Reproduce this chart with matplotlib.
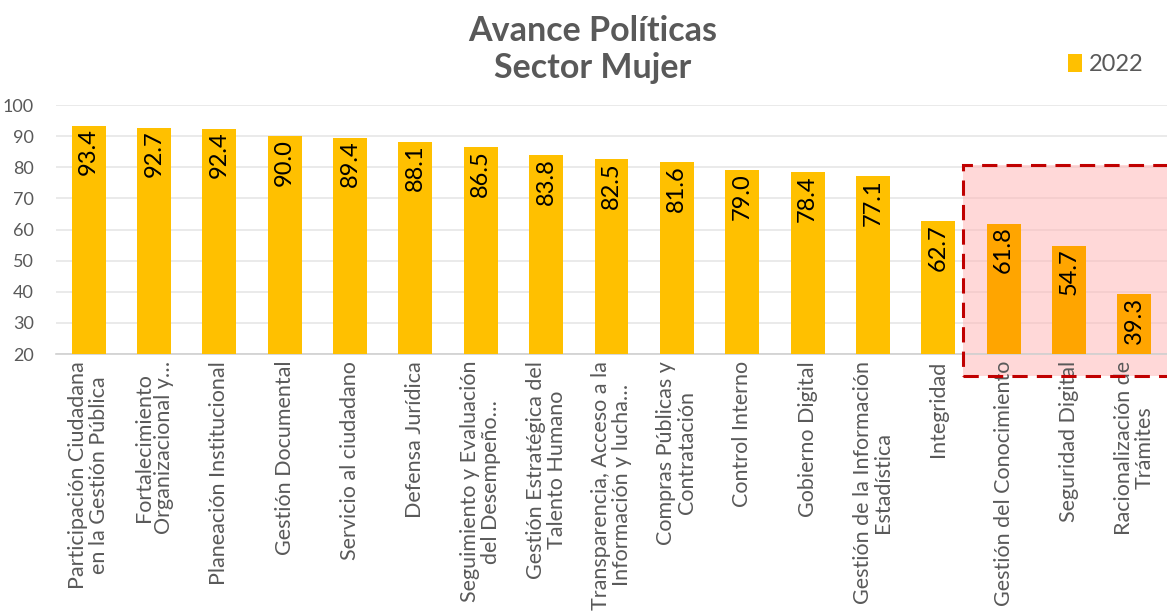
import matplotlib
matplotlib.use("Agg")
import matplotlib.pyplot as plt
from matplotlib.patches import Rectangle

categories = [
    "Participación Ciudadana\nen la Gestión Pública",
    "Fortalecimiento\nOrganizacional y…",
    "Planeación Institucional",
    "Gestión Documental",
    "Servicio al ciudadano",
    "Defensa Jurídica",
    "Seguimiento y Evaluación\ndel Desempeño…",
    "Gestión Estratégica del\nTalento Humano",
    "Transparencia, Acceso a la\nInformación y lucha…",
    "Compras Públicas y\nContratación",
    "Control Interno",
    "Gobierno Digital",
    "Gestión de la Información\nEstadística",
    "Integridad",
    "Gestión del Conocimiento",
    "Seguridad Digital",
    "Racionalización de\nTrámites",
]
values_2022 = [93.4, 92.7, 92.4, 90.0, 89.4, 88.1, 86.5, 83.8, 82.5, 81.6,
               79.0, 78.4, 77.1, 62.7, 61.8, 54.7, 39.3]
highlighted = ["Gestión del Conocimiento", "Seguridad Digital",
               "Racionalización de\nTrámites"]
yticks = [20, 30, 40, 50, 60, 70, 80, 90, 100]

plt.rcParams['font.family'] = ['Lato', 'DejaVu Sans']

fig = plt.figure(figsize=(11.67, 6.11), dpi=100)
ax = fig.add_axes([0.048, 0.4206, 0.952, 0.4075])

x = list(range(len(categories)))
colors = ['#FFA500' if c in highlighted else '#FFC000' for c in categories]
bars = ax.bar(x, values_2022, width=0.52, color=colors, zorder=3, label='2022')

ax.set_ylim(20, 100)
ax.set_xlim(-0.5, len(categories) - 0.5)
ax.set_yticks(yticks)
ax.yaxis.grid(True, color='#E6E6E6', linewidth=1.2, zorder=0)
ax.set_axisbelow(True)
for s in ['top', 'right', 'left']:
    ax.spines[s].set_visible(False)
ax.spines['bottom'].set_color('#D0D0D0')
ax.spines['bottom'].set_linewidth(1.2)
ax.tick_params(axis='y', length=0, pad=16, labelsize=13, labelcolor='#595959')
ax.tick_params(axis='x', length=0)
ax.set_xticks(x)
ax.set_xticklabels([])

for xi, lab in zip(x, categories):
    ax.annotate(lab, xy=(xi, 20), xytext=(0, -5), textcoords='offset points',
                rotation=90, ha='center', va='top', multialignment='center',
                fontsize=15.5, color='#595959', annotation_clip=False,
                linespacing=1.05)

for xi, v in zip(x, values_2022):
    ax.annotate(f"{v:.1f}", xy=(xi, v), xytext=(0, -2), textcoords='offset points',
                rotation=90, ha='center', va='top', fontsize=17, color='black',
                zorder=5)

# highlight box
first = categories.index(highlighted[0])
rect = Rectangle((first - 0.62, 12.9), 3.8, 67.8, facecolor='#FFB8B8', alpha=0.55,
                 edgecolor='none', zorder=2, clip_on=False)
ax.add_patch(rect)
rect2 = Rectangle((first - 0.62, 12.9), 3.8, 67.8, facecolor='none',
                  edgecolor='#C00000', linewidth=2.2, linestyle=(0, (5, 3)),
                  zorder=6, clip_on=False)
ax.add_patch(rect2)

fig.text(0.508, 0.95, "Avance Políticas", ha='center', va='center',
         fontsize=24.5, fontweight='bold', color='#595959')
fig.text(0.508, 0.888, "Sector Mujer", ha='center', va='center',
         fontsize=24.5, fontweight='bold', color='#595959')

leg = fig.legend(handles=[bars], labels=['2022'], loc='center left',
                 bbox_to_anchor=(0.897, 0.895), frameon=False, fontsize=17,
                 handlelength=0.6, handleheight=0.8, handletextpad=0.3)
for t in leg.get_texts():
    t.set_color('#595959')

fig.savefig('out.png', dpi=100)
